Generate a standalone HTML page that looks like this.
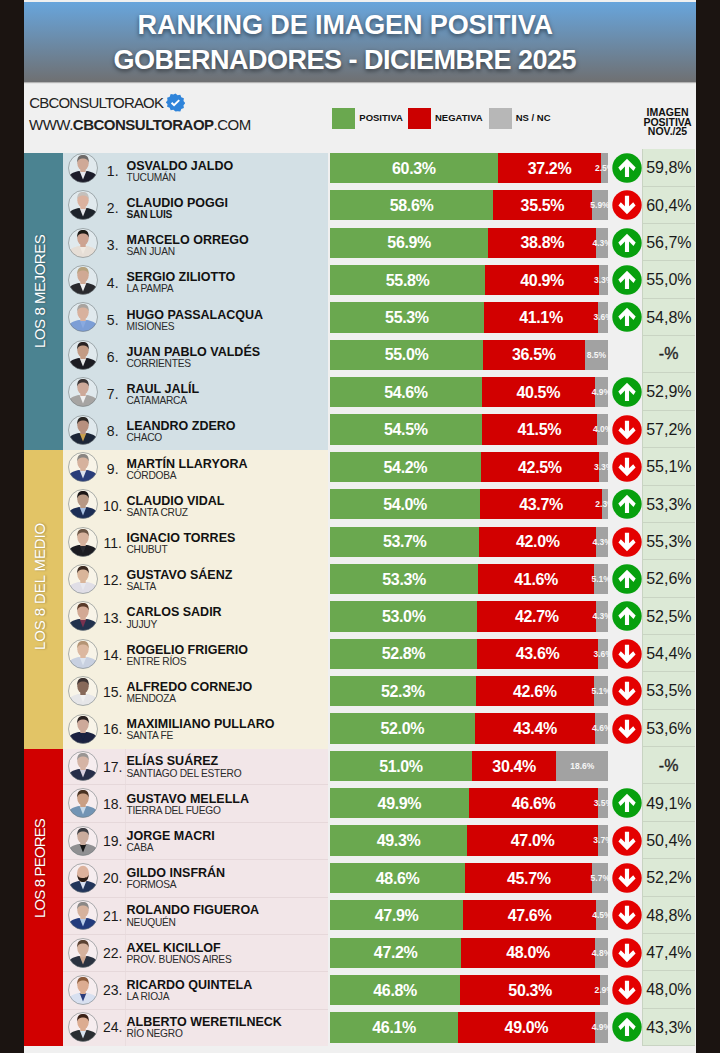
<!DOCTYPE html>
<html><head><meta charset="utf-8"><style>
*{margin:0;padding:0;box-sizing:border-box}
html,body{width:720px;height:1053px;overflow:hidden;background:#1b1411}
body{position:relative;font-family:"Liberation Sans",sans-serif}
#pg{position:absolute;left:24px;top:0;width:672px;height:1053px;background:#f0f0f0}
#hdr{position:absolute;left:24px;top:2px;width:672px;height:80px;background:linear-gradient(#68a5dc,#6f7072);box-shadow:0 1px 1px rgba(0,0,0,.25)}
.t{position:absolute;color:#fff;font-weight:bold;font-size:27px;line-height:27px;white-space:nowrap;text-shadow:0 2px 4px rgba(0,0,0,.5)}
.sec{position:absolute;left:24px;width:39.3px}
.rb{position:absolute;left:63px;width:265px}
.vl{position:absolute;color:#fff;font-size:15px;line-height:15px;white-space:nowrap;transform-origin:0 0;transform:rotate(-90deg);text-shadow:0 1px 2px rgba(0,0,0,.35)}
.bar{position:absolute;height:30.3px;overflow:visible;display:flex;align-items:center;justify-content:center}
.bar span{color:#fff;font-weight:bold;font-size:16px;line-height:16px;letter-spacing:-0.35px;white-space:nowrap;position:relative;top:0.7px}
.g{background:#6aa84f}
.r{background:#d20000}
.n{background:#a2a2a2}
.nsl{position:absolute;height:30.3px;line-height:30.3px;text-align:center;font-weight:bold;font-size:8.5px;color:#f6f6f6;white-space:nowrap}
.dash{font-weight:normal;color:#333;font-size:15.5px;-webkit-text-stroke:0.4px #333;text-indent:-0.5px;margin-top:-0.6px}
.arr{position:absolute}
#pcol{position:absolute;left:641.8px;top:149.2px;width:53.7px;height:897px;background:#dce9d6;border-left:1px solid #c8d3c2}
.prev{position:absolute;left:642.8px;width:52.2px;height:37.375px;line-height:37.375px;text-align:center;font-size:16px;color:#1a1a1a;border-bottom:1px solid #c9d4c3}
.num{position:absolute;left:92.7px;width:40px;text-align:center;font-size:14px;line-height:14px;color:#1a1a1a}
.nm{position:absolute;left:126.5px;font-weight:bold;font-size:12.5px;line-height:13px;color:#111;white-space:nowrap}
.pv{position:absolute;left:126.5px;font-size:10.2px;line-height:10px;letter-spacing:-0.25px;color:#2a2a2a;white-space:nowrap}
.av{position:absolute}
.lg{position:absolute;font-weight:bold;font-size:9.5px;line-height:10px;color:#111;white-space:nowrap}
.sq{position:absolute;top:108.3px;height:21px;width:23px}
</style></head><body>
<div id="pg"></div>
<div id="hdr"></div>
<div class="t" style="left:137.6px;top:12px;letter-spacing:-0.1px">RANKING DE IMAGEN POSITIVA</div>
<div class="t" style="left:113.5px;top:47.3px;letter-spacing:-0.5px">GOBERNADORES - DICIEMBRE 2025</div>
<div style="position:absolute;left:29.3px;top:95.3px;font-size:15px;line-height:15px;color:#222;letter-spacing:-0.82px">CBCONSULTORAOK</div>
<svg style="position:absolute;left:166.3px;top:93.2px" width="19" height="19" viewBox="0 0 24 24"><path fill="#2f84da" d="M12 0.5l2.7 2.2 3.4-.5 1.2 3.3 3.3 1.2-.5 3.4 2.2 2.7-2.2 2.7.5 3.4-3.3 1.2-1.2 3.3-3.4-.5L12 23.5l-2.7-2.2-3.4.5-1.2-3.3-3.3-1.2.5-3.4L-.3 12l2.2-2.7-.5-3.4 3.3-1.2 1.2-3.3 3.4.5z"/><path d="M7 12.3l3.2 3.2 6.5-6.6" fill="none" stroke="#fff" stroke-width="2.4"/></svg>
<div style="position:absolute;left:29px;top:117px;font-size:15px;line-height:15px;color:#222;letter-spacing:-0.5px">WWW.<b>CBCONSULTORAOP</b>.COM</div>
<div class="sq" style="left:332.3px;background:#6aa84f"></div>
<div class="lg" style="left:359.3px;top:113px">POSITIVA</div>
<div class="sq" style="left:408.3px;background:#cc0000"></div>
<div class="lg" style="left:435px;top:113px">NEGATIVA</div>
<div class="sq" style="left:489px;background:#b7b7b7"></div>
<div class="lg" style="left:515.7px;top:113px">NS / NC</div>
<div class="lg" style="left:641px;width:53px;text-align:center;top:107.7px;font-size:10.5px;line-height:9.85px">IMAGEN<br>POSITIVA<br>NOV./25</div>
<div class="sec" style="top:152.5px;height:298.6px;background:#4b8391"></div>
<div class="sec" style="top:450.1px;height:299.4px;background:#e2c466"></div>
<div class="sec" style="top:748.5px;height:297.3px;background:#d10000"></div>
<div class="rb" style="top:152.5px;height:298.6px;background:#d3e0e5"></div>
<div class="rb" style="top:450.1px;height:299.4px;background:#f5f0df"></div>
<div class="rb" style="top:748.5px;height:297.3px;background:#f2e6e8"></div>
<div class="vl" style="left:31.5px;top:348px;letter-spacing:-0.45px">LOS 8 MEJORES</div>
<div class="vl" style="left:31.5px;top:649.7px;letter-spacing:-0.1px">LOS 8 DEL MEDIO</div>
<div class="vl" style="left:31.5px;top:917.5px;letter-spacing:-0.85px">LOS 8 PEORES</div>
<div id="pcol"></div>
<div style="position:absolute;left:125px;top:748.5px;width:1px;height:297.3px;background:#eadddf"></div>
<svg width="0" height="0" style="position:absolute"><filter id="bl" x="-10%" y="-10%" width="120%" height="120%"><feGaussianBlur stdDeviation="0.45"/></filter></svg>
<div class="bar g" style="top:152.8px;left:330px;width:167.75px"><span>60.3%</span></div>
<div class="bar r" style="top:152.8px;left:497.75px;width:103.49px"><span>37.2%</span></div>
<div class="bar n" style="top:152.8px;left:601.25px;width:6.95px"></div>
<div class="nsl" style="top:152.8px;left:584.72px;width:40px;clip-path:inset(0 14.72px 0 0)">2.5%</div>
<svg class="arr" style="top:152.95px;left:611.5px" width="30" height="30" viewBox="-15 -15 30 30"><circle r="14.7" fill="#07a00e"/><polygon points="0,-9.2 8.7,-0.5 6.5,2.9 2.05,-1.55 2.05,9.1 -2.05,9.1 -2.05,-1.55 -6.5,2.9 -8.7,-0.5" fill="#fff"/></svg>
<div class="prev" style="top:149.2px">59,8%</div>
<div class="num" style="top:163.8px">1.</div>
<div class="nm" style="top:159.6px">OSVALDO JALDO</div>
<div class="pv" style="top:172.7px">TUCUMÁN</div>
<svg class="av" style="top:152.95px;left:68px" width="30" height="30" viewBox="0 0 30 30"><defs><clipPath id="c0"><circle cx="15" cy="15" r="14.6"/></clipPath></defs><circle cx="15" cy="15" r="14.5" fill="#fff" fill-opacity="0.3"/><g clip-path="url(#c0)"><g filter="url(#bl)"><path d="M-1 31 L0.5 24 C2.5 20 7 18.8 11 18 L19 18 C23 18.8 27.5 20 29.5 24 L31 31Z" fill="#1d1f2c"/><path d="M11.6 18 L15 26.5 L18.4 18Z" fill="#e8e8ee"/><rect x="12.3" y="13" width="5.4" height="6" fill="#cfa997"/><ellipse cx="15" cy="10.2" rx="5.7" ry="7.1" fill="#cfa997"/><path d="M9.3 9.8 C8.7 3.2 12 1.9 15 1.9 C18 1.9 21.3 3.2 20.7 9.8 C20.1 6.4 18 5.4 15 5.4 C12 5.4 9.9 6.4 9.3 9.8Z" fill="#6e6a68"/></g></g><circle cx="15" cy="15" r="14.5" fill="none" stroke="#6c7478" stroke-opacity="0.55" stroke-width="1"/></svg>
<div class="bar g" style="top:190.17px;left:330px;width:163.03px"><span>58.6%</span></div>
<div class="bar r" style="top:190.17px;left:493.03px;width:98.76px"><span>35.5%</span></div>
<div class="bar n" style="top:190.17px;left:591.79px;width:16.41px"></div>
<div class="nsl" style="top:190.17px;left:579.99px;width:40px;clip-path:inset(0 9.99px 0 0)">5.9%</div>
<svg class="arr" style="top:190.32px;left:611.5px" width="30" height="30" viewBox="-15 -15 30 30"><circle r="14.7" fill="#e40000"/><polygon points="0,9.2 8.6,0.6 6.2,-2.8 2.1,1.3 2.1,-9.3 -2.1,-9.3 -2.1,1.3 -6.2,-2.8 -8.6,0.6" fill="#fff"/></svg>
<div class="prev" style="top:186.57px">60,4%</div>
<div class="num" style="top:201.04px">2.</div>
<div class="nm" style="top:196.84px">CLAUDIO POGGI</div>
<div class="pv" style="top:209.94px;font-weight:bold;color:#1a1a1a">SAN LUIS</div>
<svg class="av" style="top:190.32px;left:68px" width="30" height="30" viewBox="0 0 30 30"><defs><clipPath id="c1"><circle cx="15" cy="15" r="14.6"/></clipPath></defs><circle cx="15" cy="15" r="14.5" fill="#fff" fill-opacity="0.3"/><g clip-path="url(#c1)"><g filter="url(#bl)"><path d="M-1 31 L0.5 24 C2.5 20 7 18.8 11 18 L19 18 C23 18.8 27.5 20 29.5 24 L31 31Z" fill="#1f2329"/><path d="M11.6 18 L15 26.5 L18.4 18Z" fill="#e4e6ea"/><rect x="12.3" y="13" width="5.4" height="6" fill="#dbb29f"/><ellipse cx="15" cy="10.2" rx="5.7" ry="7.1" fill="#dbb29f"/><path d="M9.3 9.8 C8.7 3.2 12 1.9 15 1.9 C18 1.9 21.3 3.2 20.7 9.8 C20.1 6.4 18 5.4 15 5.4 C12 5.4 9.9 6.4 9.3 9.8Z" fill="#c4c0bc"/></g></g><circle cx="15" cy="15" r="14.5" fill="none" stroke="#6c7478" stroke-opacity="0.55" stroke-width="1"/></svg>
<div class="bar g" style="top:227.54px;left:330px;width:158.3px"><span>56.9%</span></div>
<div class="bar r" style="top:227.54px;left:488.3px;width:107.94px"><span>38.8%</span></div>
<div class="bar n" style="top:227.54px;left:596.24px;width:11.96px"></div>
<div class="nsl" style="top:227.54px;left:582.22px;width:40px;clip-path:inset(0 12.22px 0 0)">4.3%</div>
<svg class="arr" style="top:227.69px;left:611.5px" width="30" height="30" viewBox="-15 -15 30 30"><circle r="14.7" fill="#07a00e"/><polygon points="0,-9.2 8.7,-0.5 6.5,2.9 2.05,-1.55 2.05,9.1 -2.05,9.1 -2.05,-1.55 -6.5,2.9 -8.7,-0.5" fill="#fff"/></svg>
<div class="prev" style="top:223.95px">56,7%</div>
<div class="num" style="top:238.28px">3.</div>
<div class="nm" style="top:234.08px">MARCELO ORREGO</div>
<div class="pv" style="top:247.18px">SAN JUAN</div>
<svg class="av" style="top:227.69px;left:68px" width="30" height="30" viewBox="0 0 30 30"><defs><clipPath id="c2"><circle cx="15" cy="15" r="14.6"/></clipPath></defs><circle cx="15" cy="15" r="14.5" fill="#fff" fill-opacity="0.3"/><g clip-path="url(#c2)"><g filter="url(#bl)"><path d="M-1 31 L0.5 24 C2.5 20 7 18.8 11 18 L19 18 C23 18.8 27.5 20 29.5 24 L31 31Z" fill="#e6ded6"/><path d="M11.6 18 L15 26.5 L18.4 18Z" fill="#efe8e0"/><rect x="12.3" y="13" width="5.4" height="6" fill="#cda391"/><ellipse cx="15" cy="10.2" rx="5.7" ry="7.1" fill="#cda391"/><path d="M9.3 9.8 C8.7 3.2 12 1.9 15 1.9 C18 1.9 21.3 3.2 20.7 9.8 C20.1 6.4 18 5.4 15 5.4 C12 5.4 9.9 6.4 9.3 9.8Z" fill="#1e1a18"/></g></g><circle cx="15" cy="15" r="14.5" fill="none" stroke="#6c7478" stroke-opacity="0.55" stroke-width="1"/></svg>
<div class="bar g" style="top:264.91px;left:330px;width:155.24px"><span>55.8%</span></div>
<div class="bar r" style="top:264.91px;left:485.24px;width:113.78px"><span>40.9%</span></div>
<div class="bar n" style="top:264.91px;left:599.02px;width:9.18px"></div>
<div class="nsl" style="top:264.91px;left:583.61px;width:40px;clip-path:inset(0 13.61px 0 0)">3.3%</div>
<svg class="arr" style="top:265.06px;left:611.5px" width="30" height="30" viewBox="-15 -15 30 30"><circle r="14.7" fill="#07a00e"/><polygon points="0,-9.2 8.7,-0.5 6.5,2.9 2.05,-1.55 2.05,9.1 -2.05,9.1 -2.05,-1.55 -6.5,2.9 -8.7,-0.5" fill="#fff"/></svg>
<div class="prev" style="top:261.32px">55,0%</div>
<div class="num" style="top:275.52px">4.</div>
<div class="nm" style="top:271.32px">SERGIO ZILIOTTO</div>
<div class="pv" style="top:284.42px">LA PAMPA</div>
<svg class="av" style="top:265.06px;left:68px" width="30" height="30" viewBox="0 0 30 30"><defs><clipPath id="c3"><circle cx="15" cy="15" r="14.6"/></clipPath></defs><circle cx="15" cy="15" r="14.5" fill="#fff" fill-opacity="0.3"/><g clip-path="url(#c3)"><g filter="url(#bl)"><path d="M-1 31 L0.5 24 C2.5 20 7 18.8 11 18 L19 18 C23 18.8 27.5 20 29.5 24 L31 31Z" fill="#2a2a2e"/><path d="M11.6 18 L15 26.5 L18.4 18Z" fill="#f0f0f0"/><rect x="12.3" y="13" width="5.4" height="6" fill="#d0a994"/><ellipse cx="15" cy="10.2" rx="5.7" ry="7.1" fill="#d0a994"/><path d="M9.3 9.8 C8.7 3.2 12 1.9 15 1.9 C18 1.9 21.3 3.2 20.7 9.8 C20.1 6.4 18 5.4 15 5.4 C12 5.4 9.9 6.4 9.3 9.8Z" fill="#b6a27e"/></g></g><circle cx="15" cy="15" r="14.5" fill="none" stroke="#6c7478" stroke-opacity="0.55" stroke-width="1"/></svg>
<div class="bar g" style="top:302.28px;left:330px;width:153.84px"><span>55.3%</span></div>
<div class="bar r" style="top:302.28px;left:483.84px;width:114.34px"><span>41.1%</span></div>
<div class="bar n" style="top:302.28px;left:598.18px;width:10.02px"></div>
<div class="nsl" style="top:302.28px;left:583.19px;width:40px;clip-path:inset(0 13.19px 0 0)">3.6%</div>
<svg class="arr" style="top:302.43px;left:611.5px" width="30" height="30" viewBox="-15 -15 30 30"><circle r="14.7" fill="#07a00e"/><polygon points="0,-9.2 8.7,-0.5 6.5,2.9 2.05,-1.55 2.05,9.1 -2.05,9.1 -2.05,-1.55 -6.5,2.9 -8.7,-0.5" fill="#fff"/></svg>
<div class="prev" style="top:298.7px">54,8%</div>
<div class="num" style="top:312.76px">5.</div>
<div class="nm" style="top:308.56px">HUGO PASSALACQUA</div>
<div class="pv" style="top:321.66px">MISIONES</div>
<svg class="av" style="top:302.43px;left:68px" width="30" height="30" viewBox="0 0 30 30"><defs><clipPath id="c4"><circle cx="15" cy="15" r="14.6"/></clipPath></defs><circle cx="15" cy="15" r="14.5" fill="#fff" fill-opacity="0.3"/><g clip-path="url(#c4)"><g filter="url(#bl)"><path d="M-1 31 L0.5 24 C2.5 20 7 18.8 11 18 L19 18 C23 18.8 27.5 20 29.5 24 L31 31Z" fill="#7c9ed6"/><path d="M11.6 18 L15 26.5 L18.4 18Z" fill="#8aaae0"/><rect x="12.3" y="13" width="5.4" height="6" fill="#d8b19d"/><ellipse cx="15" cy="10.2" rx="5.7" ry="7.1" fill="#d8b19d"/><path d="M9.3 9.8 C8.7 3.2 12 1.9 15 1.9 C18 1.9 21.3 3.2 20.7 9.8 C20.1 6.4 18 5.4 15 5.4 C12 5.4 9.9 6.4 9.3 9.8Z" fill="#a8a4a0"/></g></g><circle cx="15" cy="15" r="14.5" fill="none" stroke="#6c7478" stroke-opacity="0.55" stroke-width="1"/></svg>
<div class="bar g" style="top:339.65px;left:330px;width:153.01px"><span>55.0%</span></div>
<div class="bar r" style="top:339.65px;left:483.01px;width:101.54px"><span>36.5%</span></div>
<div class="bar n" style="top:339.65px;left:584.55px;width:23.65px"></div>
<div class="nsl" style="top:339.65px;left:576.38px;width:40px;clip-path:inset(0 6.38px 0 0)">8.5%</div>
<div class="prev dash" style="top:336.07px">-%</div>
<div class="num" style="top:350px">6.</div>
<div class="nm" style="top:345.8px">JUAN PABLO VALDÉS</div>
<div class="pv" style="top:358.9px">CORRIENTES</div>
<svg class="av" style="top:339.8px;left:68px" width="30" height="30" viewBox="0 0 30 30"><defs><clipPath id="c5"><circle cx="15" cy="15" r="14.6"/></clipPath></defs><circle cx="15" cy="15" r="14.5" fill="#fff" fill-opacity="0.3"/><g clip-path="url(#c5)"><g filter="url(#bl)"><path d="M-1 31 L0.5 24 C2.5 20 7 18.8 11 18 L19 18 C23 18.8 27.5 20 29.5 24 L31 31Z" fill="#1a1a22"/><path d="M11.6 18 L15 26.5 L18.4 18Z" fill="#e8e8e8"/><rect x="12.3" y="13" width="5.4" height="6" fill="#c39b84"/><ellipse cx="15" cy="10.2" rx="5.7" ry="7.1" fill="#c39b84"/><path d="M9.3 9.8 C8.7 3.2 12 1.9 15 1.9 C18 1.9 21.3 3.2 20.7 9.8 C20.1 6.4 18 5.4 15 5.4 C12 5.4 9.9 6.4 9.3 9.8Z" fill="#2a2422"/></g></g><circle cx="15" cy="15" r="14.5" fill="none" stroke="#6c7478" stroke-opacity="0.55" stroke-width="1"/></svg>
<div class="bar g" style="top:377.02px;left:330px;width:151.9px"><span>54.6%</span></div>
<div class="bar r" style="top:377.02px;left:481.9px;width:112.67px"><span>40.5%</span></div>
<div class="bar n" style="top:377.02px;left:594.57px;width:13.63px"></div>
<div class="nsl" style="top:377.02px;left:581.38px;width:40px;clip-path:inset(0 11.38px 0 0)">4.9%</div>
<svg class="arr" style="top:377.17px;left:611.5px" width="30" height="30" viewBox="-15 -15 30 30"><circle r="14.7" fill="#07a00e"/><polygon points="0,-9.2 8.7,-0.5 6.5,2.9 2.05,-1.55 2.05,9.1 -2.05,9.1 -2.05,-1.55 -6.5,2.9 -8.7,-0.5" fill="#fff"/></svg>
<div class="prev" style="top:373.45px">52,9%</div>
<div class="num" style="top:387.24px">7.</div>
<div class="nm" style="top:383.04px">RAUL JALÍL</div>
<div class="pv" style="top:396.14px">CATAMARCA</div>
<svg class="av" style="top:377.17px;left:68px" width="30" height="30" viewBox="0 0 30 30"><defs><clipPath id="c6"><circle cx="15" cy="15" r="14.6"/></clipPath></defs><circle cx="15" cy="15" r="14.5" fill="#fff" fill-opacity="0.3"/><g clip-path="url(#c6)"><g filter="url(#bl)"><path d="M-1 31 L0.5 24 C2.5 20 7 18.8 11 18 L19 18 C23 18.8 27.5 20 29.5 24 L31 31Z" fill="#a6a4a2"/><path d="M11.6 18 L15 26.5 L18.4 18Z" fill="#f0f0f0"/><rect x="12.3" y="13" width="5.4" height="6" fill="#cda999"/><ellipse cx="15" cy="10.2" rx="5.7" ry="7.1" fill="#cda999"/><path d="M9.3 9.8 C8.7 3.2 12 1.9 15 1.9 C18 1.9 21.3 3.2 20.7 9.8 C20.1 6.4 18 5.4 15 5.4 C12 5.4 9.9 6.4 9.3 9.8Z" fill="#3a3636"/></g></g><circle cx="15" cy="15" r="14.5" fill="none" stroke="#6c7478" stroke-opacity="0.55" stroke-width="1"/></svg>
<div class="bar g" style="top:414.39px;left:330px;width:151.62px"><span>54.5%</span></div>
<div class="bar r" style="top:414.39px;left:481.62px;width:115.45px"><span>41.5%</span></div>
<div class="bar n" style="top:414.39px;left:597.07px;width:11.13px"></div>
<div class="nsl" style="top:414.39px;left:582.64px;width:40px;clip-path:inset(0 12.64px 0 0)">4.0%</div>
<svg class="arr" style="top:414.54px;left:611.5px" width="30" height="30" viewBox="-15 -15 30 30"><circle r="14.7" fill="#e40000"/><polygon points="0,9.2 8.6,0.6 6.2,-2.8 2.1,1.3 2.1,-9.3 -2.1,-9.3 -2.1,1.3 -6.2,-2.8 -8.6,0.6" fill="#fff"/></svg>
<div class="prev" style="top:410.82px">57,2%</div>
<div class="num" style="top:424.48px">8.</div>
<div class="nm" style="top:420.28px">LEANDRO ZDERO</div>
<div class="pv" style="top:433.38px">CHACO</div>
<svg class="av" style="top:414.54px;left:68px" width="30" height="30" viewBox="0 0 30 30"><defs><clipPath id="c7"><circle cx="15" cy="15" r="14.6"/></clipPath></defs><circle cx="15" cy="15" r="14.5" fill="#fff" fill-opacity="0.3"/><g clip-path="url(#c7)"><g filter="url(#bl)"><path d="M-1 31 L0.5 24 C2.5 20 7 18.8 11 18 L19 18 C23 18.8 27.5 20 29.5 24 L31 31Z" fill="#1e2638"/><path d="M11.6 18 L15 26.5 L18.4 18Z" fill="#c8a050"/><rect x="12.3" y="13" width="5.4" height="6" fill="#b7907e"/><ellipse cx="15" cy="10.2" rx="5.7" ry="7.1" fill="#b7907e"/><path d="M9.3 9.8 C8.7 3.2 12 1.9 15 1.9 C18 1.9 21.3 3.2 20.7 9.8 C20.1 6.4 18 5.4 15 5.4 C12 5.4 9.9 6.4 9.3 9.8Z" fill="#2c2624"/></g></g><circle cx="15" cy="15" r="14.5" fill="none" stroke="#6c7478" stroke-opacity="0.55" stroke-width="1"/></svg>
<div class="bar g" style="top:451.76px;left:330px;width:150.78px"><span>54.2%</span></div>
<div class="bar r" style="top:451.76px;left:480.78px;width:118.23px"><span>42.5%</span></div>
<div class="bar n" style="top:451.76px;left:599.02px;width:9.18px"></div>
<div class="nsl" style="top:451.76px;left:583.61px;width:40px;clip-path:inset(0 13.61px 0 0)">3.3%</div>
<svg class="arr" style="top:451.91px;left:611.5px" width="30" height="30" viewBox="-15 -15 30 30"><circle r="14.7" fill="#e40000"/><polygon points="0,9.2 8.6,0.6 6.2,-2.8 2.1,1.3 2.1,-9.3 -2.1,-9.3 -2.1,1.3 -6.2,-2.8 -8.6,0.6" fill="#fff"/></svg>
<div class="prev" style="top:448.2px">55,1%</div>
<div class="num" style="top:461.72px">9.</div>
<div class="nm" style="top:457.52px">MARTÍN LLARYORA</div>
<div class="pv" style="top:470.62px">CÓRDOBA</div>
<svg class="av" style="top:451.91px;left:68px" width="30" height="30" viewBox="0 0 30 30"><defs><clipPath id="c8"><circle cx="15" cy="15" r="14.6"/></clipPath></defs><circle cx="15" cy="15" r="14.5" fill="#fff" fill-opacity="0.3"/><g clip-path="url(#c8)"><g filter="url(#bl)"><path d="M-1 31 L0.5 24 C2.5 20 7 18.8 11 18 L19 18 C23 18.8 27.5 20 29.5 24 L31 31Z" fill="#2c3c7a"/><path d="M11.6 18 L15 26.5 L18.4 18Z" fill="#dde2ee"/><rect x="12.3" y="13" width="5.4" height="6" fill="#d6b29d"/><ellipse cx="15" cy="10.2" rx="5.7" ry="7.1" fill="#d6b29d"/><path d="M9.3 9.8 C8.7 3.2 12 1.9 15 1.9 C18 1.9 21.3 3.2 20.7 9.8 C20.1 6.4 18 5.4 15 5.4 C12 5.4 9.9 6.4 9.3 9.8Z" fill="#8a8682"/></g></g><circle cx="15" cy="15" r="14.5" fill="none" stroke="#6c7478" stroke-opacity="0.55" stroke-width="1"/></svg>
<div class="bar g" style="top:489.13px;left:330px;width:150.23px"><span>54.0%</span></div>
<div class="bar r" style="top:489.13px;left:480.23px;width:121.57px"><span>43.7%</span></div>
<div class="bar n" style="top:489.13px;left:601.8px;width:6.4px"></div>
<div class="nsl" style="top:489.13px;left:585px;width:40px;clip-path:inset(0 15px 0 0)">2.3%</div>
<svg class="arr" style="top:489.28px;left:611.5px" width="30" height="30" viewBox="-15 -15 30 30"><circle r="14.7" fill="#07a00e"/><polygon points="0,-9.2 8.7,-0.5 6.5,2.9 2.05,-1.55 2.05,9.1 -2.05,9.1 -2.05,-1.55 -6.5,2.9 -8.7,-0.5" fill="#fff"/></svg>
<div class="prev" style="top:485.57px">53,3%</div>
<div class="num" style="top:498.96px">10.</div>
<div class="nm" style="top:494.76px">CLAUDIO VIDAL</div>
<div class="pv" style="top:507.86px">SANTA CRUZ</div>
<svg class="av" style="top:489.28px;left:68px" width="30" height="30" viewBox="0 0 30 30"><defs><clipPath id="c9"><circle cx="15" cy="15" r="14.6"/></clipPath></defs><circle cx="15" cy="15" r="14.5" fill="#fff" fill-opacity="0.3"/><g clip-path="url(#c9)"><g filter="url(#bl)"><path d="M-1 31 L0.5 24 C2.5 20 7 18.8 11 18 L19 18 C23 18.8 27.5 20 29.5 24 L31 31Z" fill="#1f2f55"/><path d="M11.6 18 L15 26.5 L18.4 18Z" fill="#a8c0e0"/><rect x="12.3" y="13" width="5.4" height="6" fill="#b79884"/><ellipse cx="15" cy="10.2" rx="5.7" ry="7.1" fill="#b79884"/><path d="M9.3 9.8 C8.7 3.2 12 1.9 15 1.9 C18 1.9 21.3 3.2 20.7 9.8 C20.1 6.4 18 5.4 15 5.4 C12 5.4 9.9 6.4 9.3 9.8Z" fill="#1a1616"/></g></g><circle cx="15" cy="15" r="14.5" fill="none" stroke="#6c7478" stroke-opacity="0.55" stroke-width="1"/></svg>
<div class="bar g" style="top:526.5px;left:330px;width:149.39px"><span>53.7%</span></div>
<div class="bar r" style="top:526.5px;left:479.39px;width:116.84px"><span>42.0%</span></div>
<div class="bar n" style="top:526.5px;left:596.24px;width:11.96px"></div>
<div class="nsl" style="top:526.5px;left:582.22px;width:40px;clip-path:inset(0 12.22px 0 0)">4.3%</div>
<svg class="arr" style="top:526.65px;left:611.5px" width="30" height="30" viewBox="-15 -15 30 30"><circle r="14.7" fill="#e40000"/><polygon points="0,9.2 8.6,0.6 6.2,-2.8 2.1,1.3 2.1,-9.3 -2.1,-9.3 -2.1,1.3 -6.2,-2.8 -8.6,0.6" fill="#fff"/></svg>
<div class="prev" style="top:522.95px">55,3%</div>
<div class="num" style="top:536.2px">11.</div>
<div class="nm" style="top:532px">IGNACIO TORRES</div>
<div class="pv" style="top:545.1px">CHUBUT</div>
<svg class="av" style="top:526.65px;left:68px" width="30" height="30" viewBox="0 0 30 30"><defs><clipPath id="c10"><circle cx="15" cy="15" r="14.6"/></clipPath></defs><circle cx="15" cy="15" r="14.5" fill="#fff" fill-opacity="0.3"/><g clip-path="url(#c10)"><g filter="url(#bl)"><path d="M-1 31 L0.5 24 C2.5 20 7 18.8 11 18 L19 18 C23 18.8 27.5 20 29.5 24 L31 31Z" fill="#1a1c22"/><path d="M11.6 18 L15 26.5 L18.4 18Z" fill="#2a2c30"/><rect x="12.3" y="13" width="5.4" height="6" fill="#d6b29d"/><ellipse cx="15" cy="10.2" rx="5.7" ry="7.1" fill="#d6b29d"/><path d="M9.3 9.8 C8.7 3.2 12 1.9 15 1.9 C18 1.9 21.3 3.2 20.7 9.8 C20.1 6.4 18 5.4 15 5.4 C12 5.4 9.9 6.4 9.3 9.8Z" fill="#6a5444"/></g></g><circle cx="15" cy="15" r="14.5" fill="none" stroke="#6c7478" stroke-opacity="0.55" stroke-width="1"/></svg>
<div class="bar g" style="top:563.87px;left:330px;width:148.28px"><span>53.3%</span></div>
<div class="bar r" style="top:563.87px;left:478.28px;width:115.73px"><span>41.6%</span></div>
<div class="bar n" style="top:563.87px;left:594.01px;width:14.19px"></div>
<div class="nsl" style="top:563.87px;left:581.11px;width:40px;clip-path:inset(0 11.11px 0 0)">5.1%</div>
<svg class="arr" style="top:564.02px;left:611.5px" width="30" height="30" viewBox="-15 -15 30 30"><circle r="14.7" fill="#07a00e"/><polygon points="0,-9.2 8.7,-0.5 6.5,2.9 2.05,-1.55 2.05,9.1 -2.05,9.1 -2.05,-1.55 -6.5,2.9 -8.7,-0.5" fill="#fff"/></svg>
<div class="prev" style="top:560.33px">52,6%</div>
<div class="num" style="top:573.44px">12.</div>
<div class="nm" style="top:569.24px">GUSTAVO SÁENZ</div>
<div class="pv" style="top:582.34px">SALTA</div>
<svg class="av" style="top:564.02px;left:68px" width="30" height="30" viewBox="0 0 30 30"><defs><clipPath id="c11"><circle cx="15" cy="15" r="14.6"/></clipPath></defs><circle cx="15" cy="15" r="14.5" fill="#fff" fill-opacity="0.3"/><g clip-path="url(#c11)"><g filter="url(#bl)"><path d="M-1 31 L0.5 24 C2.5 20 7 18.8 11 18 L19 18 C23 18.8 27.5 20 29.5 24 L31 31Z" fill="#e0dee6"/><path d="M11.6 18 L15 26.5 L18.4 18Z" fill="#e8e8ee"/><rect x="12.3" y="13" width="5.4" height="6" fill="#d9b59a"/><ellipse cx="15" cy="10.2" rx="5.7" ry="7.1" fill="#d9b59a"/><path d="M9.3 9.8 C8.7 3.2 12 1.9 15 1.9 C18 1.9 21.3 3.2 20.7 9.8 C20.1 6.4 18 5.4 15 5.4 C12 5.4 9.9 6.4 9.3 9.8Z" fill="#3a2a20"/></g></g><circle cx="15" cy="15" r="14.5" fill="none" stroke="#6c7478" stroke-opacity="0.55" stroke-width="1"/></svg>
<div class="bar g" style="top:601.24px;left:330px;width:147.45px"><span>53.0%</span></div>
<div class="bar r" style="top:601.24px;left:477.45px;width:118.79px"><span>42.7%</span></div>
<div class="bar n" style="top:601.24px;left:596.24px;width:11.96px"></div>
<div class="nsl" style="top:601.24px;left:582.22px;width:40px;clip-path:inset(0 12.22px 0 0)">4.3%</div>
<svg class="arr" style="top:601.39px;left:611.5px" width="30" height="30" viewBox="-15 -15 30 30"><circle r="14.7" fill="#07a00e"/><polygon points="0,-9.2 8.7,-0.5 6.5,2.9 2.05,-1.55 2.05,9.1 -2.05,9.1 -2.05,-1.55 -6.5,2.9 -8.7,-0.5" fill="#fff"/></svg>
<div class="prev" style="top:597.7px">52,5%</div>
<div class="num" style="top:610.68px">13.</div>
<div class="nm" style="top:606.48px">CARLOS SADIR</div>
<div class="pv" style="top:619.58px">JUJUY</div>
<svg class="av" style="top:601.39px;left:68px" width="30" height="30" viewBox="0 0 30 30"><defs><clipPath id="c12"><circle cx="15" cy="15" r="14.6"/></clipPath></defs><circle cx="15" cy="15" r="14.5" fill="#fff" fill-opacity="0.3"/><g clip-path="url(#c12)"><g filter="url(#bl)"><path d="M-1 31 L0.5 24 C2.5 20 7 18.8 11 18 L19 18 C23 18.8 27.5 20 29.5 24 L31 31Z" fill="#22324e"/><path d="M11.6 18 L15 26.5 L18.4 18Z" fill="#7a3050"/><rect x="12.3" y="13" width="5.4" height="6" fill="#d3a994"/><ellipse cx="15" cy="10.2" rx="5.7" ry="7.1" fill="#d3a994"/><path d="M9.3 9.8 C8.7 3.2 12 1.9 15 1.9 C18 1.9 21.3 3.2 20.7 9.8 C20.1 6.4 18 5.4 15 5.4 C12 5.4 9.9 6.4 9.3 9.8Z" fill="#5a3a2a"/></g></g><circle cx="15" cy="15" r="14.5" fill="none" stroke="#6c7478" stroke-opacity="0.55" stroke-width="1"/></svg>
<div class="bar g" style="top:638.61px;left:330px;width:146.89px"><span>52.8%</span></div>
<div class="bar r" style="top:638.61px;left:476.89px;width:121.3px"><span>43.6%</span></div>
<div class="bar n" style="top:638.61px;left:598.18px;width:10.02px"></div>
<div class="nsl" style="top:638.61px;left:583.19px;width:40px;clip-path:inset(0 13.19px 0 0)">3.6%</div>
<svg class="arr" style="top:638.76px;left:611.5px" width="30" height="30" viewBox="-15 -15 30 30"><circle r="14.7" fill="#e40000"/><polygon points="0,9.2 8.6,0.6 6.2,-2.8 2.1,1.3 2.1,-9.3 -2.1,-9.3 -2.1,1.3 -6.2,-2.8 -8.6,0.6" fill="#fff"/></svg>
<div class="prev" style="top:635.08px">54,4%</div>
<div class="num" style="top:647.92px">14.</div>
<div class="nm" style="top:643.72px">ROGELIO FRIGERIO</div>
<div class="pv" style="top:656.82px">ENTRE RÍOS</div>
<svg class="av" style="top:638.76px;left:68px" width="30" height="30" viewBox="0 0 30 30"><defs><clipPath id="c13"><circle cx="15" cy="15" r="14.6"/></clipPath></defs><circle cx="15" cy="15" r="14.5" fill="#fff" fill-opacity="0.3"/><g clip-path="url(#c13)"><g filter="url(#bl)"><path d="M-1 31 L0.5 24 C2.5 20 7 18.8 11 18 L19 18 C23 18.8 27.5 20 29.5 24 L31 31Z" fill="#c8d0e0"/><path d="M11.6 18 L15 26.5 L18.4 18Z" fill="#dde4ee"/><rect x="12.3" y="13" width="5.4" height="6" fill="#dcb8a0"/><ellipse cx="15" cy="10.2" rx="5.7" ry="7.1" fill="#dcb8a0"/><path d="M9.3 9.8 C8.7 3.2 12 1.9 15 1.9 C18 1.9 21.3 3.2 20.7 9.8 C20.1 6.4 18 5.4 15 5.4 C12 5.4 9.9 6.4 9.3 9.8Z" fill="#b49474"/></g></g><circle cx="15" cy="15" r="14.5" fill="none" stroke="#6c7478" stroke-opacity="0.55" stroke-width="1"/></svg>
<div class="bar g" style="top:675.98px;left:330px;width:145.5px"><span>52.3%</span></div>
<div class="bar r" style="top:675.98px;left:475.5px;width:118.51px"><span>42.6%</span></div>
<div class="bar n" style="top:675.98px;left:594.01px;width:14.19px"></div>
<div class="nsl" style="top:675.98px;left:581.11px;width:40px;clip-path:inset(0 11.11px 0 0)">5.1%</div>
<svg class="arr" style="top:676.13px;left:611.5px" width="30" height="30" viewBox="-15 -15 30 30"><circle r="14.7" fill="#e40000"/><polygon points="0,9.2 8.6,0.6 6.2,-2.8 2.1,1.3 2.1,-9.3 -2.1,-9.3 -2.1,1.3 -6.2,-2.8 -8.6,0.6" fill="#fff"/></svg>
<div class="prev" style="top:672.45px">53,5%</div>
<div class="num" style="top:685.16px">15.</div>
<div class="nm" style="top:680.96px">ALFREDO CORNEJO</div>
<div class="pv" style="top:694.06px">MENDOZA</div>
<svg class="av" style="top:676.13px;left:68px" width="30" height="30" viewBox="0 0 30 30"><defs><clipPath id="c14"><circle cx="15" cy="15" r="14.6"/></clipPath></defs><circle cx="15" cy="15" r="14.5" fill="#fff" fill-opacity="0.3"/><g clip-path="url(#c14)"><g filter="url(#bl)"><path d="M-1 31 L0.5 24 C2.5 20 7 18.8 11 18 L19 18 C23 18.8 27.5 20 29.5 24 L31 31Z" fill="#e6e6e8"/><path d="M11.6 18 L15 26.5 L18.4 18Z" fill="#f0f0f0"/><rect x="12.3" y="13" width="5.4" height="6" fill="#87695a"/><ellipse cx="15" cy="10.2" rx="5.7" ry="7.1" fill="#87695a"/><path d="M9.3 9.8 C8.7 3.2 12 1.9 15 1.9 C18 1.9 21.3 3.2 20.7 9.8 C20.1 6.4 18 5.4 15 5.4 C12 5.4 9.9 6.4 9.3 9.8Z" fill="#3a3030"/></g></g><circle cx="15" cy="15" r="14.5" fill="none" stroke="#6c7478" stroke-opacity="0.55" stroke-width="1"/></svg>
<div class="bar g" style="top:713.35px;left:330px;width:144.66px"><span>52.0%</span></div>
<div class="bar r" style="top:713.35px;left:474.66px;width:120.74px"><span>43.4%</span></div>
<div class="bar n" style="top:713.35px;left:595.4px;width:12.8px"></div>
<div class="nsl" style="top:713.35px;left:581.8px;width:40px;clip-path:inset(0 11.8px 0 0)">4.6%</div>
<svg class="arr" style="top:713.5px;left:611.5px" width="30" height="30" viewBox="-15 -15 30 30"><circle r="14.7" fill="#e40000"/><polygon points="0,9.2 8.6,0.6 6.2,-2.8 2.1,1.3 2.1,-9.3 -2.1,-9.3 -2.1,1.3 -6.2,-2.8 -8.6,0.6" fill="#fff"/></svg>
<div class="prev" style="top:709.83px">53,6%</div>
<div class="num" style="top:722.4px">16.</div>
<div class="nm" style="top:718.2px">MAXIMILIANO PULLARO</div>
<div class="pv" style="top:731.3px">SANTA FE</div>
<svg class="av" style="top:713.5px;left:68px" width="30" height="30" viewBox="0 0 30 30"><defs><clipPath id="c15"><circle cx="15" cy="15" r="14.6"/></clipPath></defs><circle cx="15" cy="15" r="14.5" fill="#fff" fill-opacity="0.3"/><g clip-path="url(#c15)"><g filter="url(#bl)"><path d="M-1 31 L0.5 24 C2.5 20 7 18.8 11 18 L19 18 C23 18.8 27.5 20 29.5 24 L31 31Z" fill="#1a2440"/><path d="M11.6 18 L15 26.5 L18.4 18Z" fill="#1a2440"/><rect x="12.3" y="13" width="5.4" height="6" fill="#cda99a"/><ellipse cx="15" cy="10.2" rx="5.7" ry="7.1" fill="#cda99a"/><path d="M9.3 9.8 C8.7 3.2 12 1.9 15 1.9 C18 1.9 21.3 3.2 20.7 9.8 C20.1 6.4 18 5.4 15 5.4 C12 5.4 9.9 6.4 9.3 9.8Z" fill="#2a2020"/></g></g><circle cx="15" cy="15" r="14.5" fill="none" stroke="#6c7478" stroke-opacity="0.55" stroke-width="1"/></svg>
<div class="bar g" style="top:750.72px;left:330px;width:141.88px"><span>51.0%</span></div>
<div class="bar r" style="top:750.72px;left:471.88px;width:84.57px"><span>30.4%</span></div>
<div class="bar n" style="top:750.72px;left:556.45px;width:51.75px"></div>
<div class="nsl" style="top:750.72px;left:562.33px;width:40px;clip-path:inset(0 -7.67px 0 0)">18.6%</div>
<div class="prev dash" style="top:747.2px">-%</div>
<div class="num" style="top:759.64px">17.</div>
<div class="nm" style="top:755.44px">ELÍAS SUÁREZ</div>
<div class="pv" style="top:768.54px">SANTIAGO DEL ESTERO</div>
<svg class="av" style="top:750.87px;left:68px" width="30" height="30" viewBox="0 0 30 30"><defs><clipPath id="c16"><circle cx="15" cy="15" r="14.6"/></clipPath></defs><circle cx="15" cy="15" r="14.5" fill="#fff" fill-opacity="0.3"/><g clip-path="url(#c16)"><g filter="url(#bl)"><path d="M-1 31 L0.5 24 C2.5 20 7 18.8 11 18 L19 18 C23 18.8 27.5 20 29.5 24 L31 31Z" fill="#252e48"/><path d="M11.6 18 L15 26.5 L18.4 18Z" fill="#d8d0e0"/><rect x="12.3" y="13" width="5.4" height="6" fill="#d5b4a5"/><ellipse cx="15" cy="10.2" rx="5.7" ry="7.1" fill="#d5b4a5"/><path d="M9.3 9.8 C8.7 3.2 12 1.9 15 1.9 C18 1.9 21.3 3.2 20.7 9.8 C20.1 6.4 18 5.4 15 5.4 C12 5.4 9.9 6.4 9.3 9.8Z" fill="#9a9694"/></g></g><circle cx="15" cy="15" r="14.5" fill="none" stroke="#6c7478" stroke-opacity="0.55" stroke-width="1"/></svg>
<div style="position:absolute;left:62.6px;width:265.4px;height:1px;background:#e6d8da;top:784.49px"></div>
<div class="bar g" style="top:788.09px;left:330px;width:138.82px"><span>49.9%</span></div>
<div class="bar r" style="top:788.09px;left:468.82px;width:129.64px"><span>46.6%</span></div>
<div class="bar n" style="top:788.09px;left:598.46px;width:9.74px"></div>
<div class="nsl" style="top:788.09px;left:583.33px;width:40px;clip-path:inset(0 13.33px 0 0)">3.5%</div>
<svg class="arr" style="top:788.24px;left:611.5px" width="30" height="30" viewBox="-15 -15 30 30"><circle r="14.7" fill="#07a00e"/><polygon points="0,-9.2 8.7,-0.5 6.5,2.9 2.05,-1.55 2.05,9.1 -2.05,9.1 -2.05,-1.55 -6.5,2.9 -8.7,-0.5" fill="#fff"/></svg>
<div class="prev" style="top:784.58px">49,1%</div>
<div class="num" style="top:796.88px">18.</div>
<div class="nm" style="top:792.68px">GUSTAVO MELELLA</div>
<div class="pv" style="top:805.78px">TIERRA DEL FUEGO</div>
<svg class="av" style="top:788.24px;left:68px" width="30" height="30" viewBox="0 0 30 30"><defs><clipPath id="c17"><circle cx="15" cy="15" r="14.6"/></clipPath></defs><circle cx="15" cy="15" r="14.5" fill="#fff" fill-opacity="0.3"/><g clip-path="url(#c17)"><g filter="url(#bl)"><path d="M-1 31 L0.5 24 C2.5 20 7 18.8 11 18 L19 18 C23 18.8 27.5 20 29.5 24 L31 31Z" fill="#7294b4"/><path d="M11.6 18 L15 26.5 L18.4 18Z" fill="#c8d8e8"/><rect x="12.3" y="13" width="5.4" height="6" fill="#ca9f84"/><ellipse cx="15" cy="10.2" rx="5.7" ry="7.1" fill="#ca9f84"/><path d="M9.3 9.8 C8.7 3.2 12 1.9 15 1.9 C18 1.9 21.3 3.2 20.7 9.8 C20.1 6.4 18 5.4 15 5.4 C12 5.4 9.9 6.4 9.3 9.8Z" fill="#4a3222"/></g></g><circle cx="15" cy="15" r="14.5" fill="none" stroke="#6c7478" stroke-opacity="0.55" stroke-width="1"/></svg>
<div style="position:absolute;left:62.6px;width:265.4px;height:1px;background:#e6d8da;top:821.86px"></div>
<div class="bar g" style="top:825.46px;left:330px;width:137.15px"><span>49.3%</span></div>
<div class="bar r" style="top:825.46px;left:467.15px;width:130.75px"><span>47.0%</span></div>
<div class="bar n" style="top:825.46px;left:597.91px;width:10.29px"></div>
<div class="nsl" style="top:825.46px;left:583.05px;width:40px;clip-path:inset(0 13.05px 0 0)">3.7%</div>
<svg class="arr" style="top:825.61px;left:611.5px" width="30" height="30" viewBox="-15 -15 30 30"><circle r="14.7" fill="#e40000"/><polygon points="0,9.2 8.6,0.6 6.2,-2.8 2.1,1.3 2.1,-9.3 -2.1,-9.3 -2.1,1.3 -6.2,-2.8 -8.6,0.6" fill="#fff"/></svg>
<div class="prev" style="top:821.95px">50,4%</div>
<div class="num" style="top:834.12px">19.</div>
<div class="nm" style="top:829.92px">JORGE MACRI</div>
<div class="pv" style="top:843.02px">CABA</div>
<svg class="av" style="top:825.61px;left:68px" width="30" height="30" viewBox="0 0 30 30"><defs><clipPath id="c18"><circle cx="15" cy="15" r="14.6"/></clipPath></defs><circle cx="15" cy="15" r="14.5" fill="#fff" fill-opacity="0.3"/><g clip-path="url(#c18)"><g filter="url(#bl)"><path d="M-1 31 L0.5 24 C2.5 20 7 18.8 11 18 L19 18 C23 18.8 27.5 20 29.5 24 L31 31Z" fill="#909092"/><path d="M11.6 18 L15 26.5 L18.4 18Z" fill="#151515"/><rect x="12.3" y="13" width="5.4" height="6" fill="#caac9d"/><ellipse cx="15" cy="10.2" rx="5.7" ry="7.1" fill="#caac9d"/><path d="M9.3 9.8 C8.7 3.2 12 1.9 15 1.9 C18 1.9 21.3 3.2 20.7 9.8 C20.1 6.4 18 5.4 15 5.4 C12 5.4 9.9 6.4 9.3 9.8Z" fill="#3e3e42"/></g></g><circle cx="15" cy="15" r="14.5" fill="none" stroke="#6c7478" stroke-opacity="0.55" stroke-width="1"/></svg>
<div style="position:absolute;left:62.6px;width:265.4px;height:1px;background:#e6d8da;top:859.23px"></div>
<div class="bar g" style="top:862.83px;left:330px;width:135.21px"><span>48.6%</span></div>
<div class="bar r" style="top:862.83px;left:465.21px;width:127.14px"><span>45.7%</span></div>
<div class="bar n" style="top:862.83px;left:592.34px;width:15.86px"></div>
<div class="nsl" style="top:862.83px;left:580.27px;width:40px;clip-path:inset(0 10.27px 0 0)">5.7%</div>
<svg class="arr" style="top:862.98px;left:611.5px" width="30" height="30" viewBox="-15 -15 30 30"><circle r="14.7" fill="#e40000"/><polygon points="0,9.2 8.6,0.6 6.2,-2.8 2.1,1.3 2.1,-9.3 -2.1,-9.3 -2.1,1.3 -6.2,-2.8 -8.6,0.6" fill="#fff"/></svg>
<div class="prev" style="top:859.33px">52,2%</div>
<div class="num" style="top:871.36px">20.</div>
<div class="nm" style="top:867.16px">GILDO INSFRÁN</div>
<div class="pv" style="top:880.26px">FORMOSA</div>
<svg class="av" style="top:862.98px;left:68px" width="30" height="30" viewBox="0 0 30 30"><defs><clipPath id="c19"><circle cx="15" cy="15" r="14.6"/></clipPath></defs><circle cx="15" cy="15" r="14.5" fill="#fff" fill-opacity="0.3"/><g clip-path="url(#c19)"><g filter="url(#bl)"><path d="M-1 31 L0.5 24 C2.5 20 7 18.8 11 18 L19 18 C23 18.8 27.5 20 29.5 24 L31 31Z" fill="#24345a"/><path d="M11.6 18 L15 26.5 L18.4 18Z" fill="#d8e0f0"/><rect x="12.3" y="13" width="5.4" height="6" fill="#dcb29d"/><ellipse cx="15" cy="10.2" rx="6" ry="7.4" fill="#dcb29d"/><path d="M9.2 11 C9.5 17 12 19 15 19 C18 19 20.5 17 20.8 11 C20 14.5 18 15 15 15 C12 15 10 14.5 9.2 11Z" fill="#2a1a12"/></g></g><circle cx="15" cy="15" r="14.5" fill="none" stroke="#6c7478" stroke-opacity="0.55" stroke-width="1"/></svg>
<div style="position:absolute;left:62.6px;width:265.4px;height:1px;background:#e6d8da;top:896.6px"></div>
<div class="bar g" style="top:900.2px;left:330px;width:133.26px"><span>47.9%</span></div>
<div class="bar r" style="top:900.2px;left:463.26px;width:132.42px"><span>47.6%</span></div>
<div class="bar n" style="top:900.2px;left:595.68px;width:12.52px"></div>
<div class="nsl" style="top:900.2px;left:581.94px;width:40px;clip-path:inset(0 11.94px 0 0)">4.5%</div>
<svg class="arr" style="top:900.35px;left:611.5px" width="30" height="30" viewBox="-15 -15 30 30"><circle r="14.7" fill="#e40000"/><polygon points="0,9.2 8.6,0.6 6.2,-2.8 2.1,1.3 2.1,-9.3 -2.1,-9.3 -2.1,1.3 -6.2,-2.8 -8.6,0.6" fill="#fff"/></svg>
<div class="prev" style="top:896.7px">48,8%</div>
<div class="num" style="top:908.6px">21.</div>
<div class="nm" style="top:904.4px">ROLANDO FIGUEROA</div>
<div class="pv" style="top:917.5px">NEUQUÉN</div>
<svg class="av" style="top:900.35px;left:68px" width="30" height="30" viewBox="0 0 30 30"><defs><clipPath id="c20"><circle cx="15" cy="15" r="14.6"/></clipPath></defs><circle cx="15" cy="15" r="14.5" fill="#fff" fill-opacity="0.3"/><g clip-path="url(#c20)"><g filter="url(#bl)"><path d="M-1 31 L0.5 24 C2.5 20 7 18.8 11 18 L19 18 C23 18.8 27.5 20 29.5 24 L31 31Z" fill="#223a7c"/><path d="M11.6 18 L15 26.5 L18.4 18Z" fill="#b8cce8"/><rect x="12.3" y="13" width="5.4" height="6" fill="#d6b29d"/><ellipse cx="15" cy="10.2" rx="5.7" ry="7.1" fill="#d6b29d"/><path d="M9.3 9.8 C8.7 3.2 12 1.9 15 1.9 C18 1.9 21.3 3.2 20.7 9.8 C20.1 6.4 18 5.4 15 5.4 C12 5.4 9.9 6.4 9.3 9.8Z" fill="#8a8886"/></g></g><circle cx="15" cy="15" r="14.5" fill="none" stroke="#6c7478" stroke-opacity="0.55" stroke-width="1"/></svg>
<div style="position:absolute;left:62.6px;width:265.4px;height:1px;background:#e6d8da;top:933.97px"></div>
<div class="bar g" style="top:937.57px;left:330px;width:131.31px"><span>47.2%</span></div>
<div class="bar r" style="top:937.57px;left:461.31px;width:133.54px"><span>48.0%</span></div>
<div class="bar n" style="top:937.57px;left:594.85px;width:13.35px"></div>
<div class="nsl" style="top:937.57px;left:581.52px;width:40px;clip-path:inset(0 11.52px 0 0)">4.8%</div>
<svg class="arr" style="top:937.72px;left:611.5px" width="30" height="30" viewBox="-15 -15 30 30"><circle r="14.7" fill="#e40000"/><polygon points="0,9.2 8.6,0.6 6.2,-2.8 2.1,1.3 2.1,-9.3 -2.1,-9.3 -2.1,1.3 -6.2,-2.8 -8.6,0.6" fill="#fff"/></svg>
<div class="prev" style="top:934.08px">47,4%</div>
<div class="num" style="top:945.84px">22.</div>
<div class="nm" style="top:941.64px">AXEL KICILLOF</div>
<div class="pv" style="top:954.74px">PROV. BUENOS AIRES</div>
<svg class="av" style="top:937.72px;left:68px" width="30" height="30" viewBox="0 0 30 30"><defs><clipPath id="c21"><circle cx="15" cy="15" r="14.6"/></clipPath></defs><circle cx="15" cy="15" r="14.5" fill="#fff" fill-opacity="0.3"/><g clip-path="url(#c21)"><g filter="url(#bl)"><path d="M-1 31 L0.5 24 C2.5 20 7 18.8 11 18 L19 18 C23 18.8 27.5 20 29.5 24 L31 31Z" fill="#2a3040"/><path d="M11.6 18 L15 26.5 L18.4 18Z" fill="#d0a890"/><rect x="12.3" y="13" width="5.4" height="6" fill="#d6b29d"/><ellipse cx="15" cy="10.2" rx="5.7" ry="7.1" fill="#d6b29d"/><path d="M9.3 9.8 C8.7 3.2 12 1.9 15 1.9 C18 1.9 21.3 3.2 20.7 9.8 C20.1 6.4 18 5.4 15 5.4 C12 5.4 9.9 6.4 9.3 9.8Z" fill="#5a4232"/></g></g><circle cx="15" cy="15" r="14.5" fill="none" stroke="#6c7478" stroke-opacity="0.55" stroke-width="1"/></svg>
<div style="position:absolute;left:62.6px;width:265.4px;height:1px;background:#e6d8da;top:971.34px"></div>
<div class="bar g" style="top:974.94px;left:330px;width:130.2px"><span>46.8%</span></div>
<div class="bar r" style="top:974.94px;left:460.2px;width:139.93px"><span>50.3%</span></div>
<div class="bar n" style="top:974.94px;left:600.13px;width:8.07px"></div>
<div class="nsl" style="top:974.94px;left:584.17px;width:40px;clip-path:inset(0 14.17px 0 0)">2.9%</div>
<svg class="arr" style="top:975.09px;left:611.5px" width="30" height="30" viewBox="-15 -15 30 30"><circle r="14.7" fill="#e40000"/><polygon points="0,9.2 8.6,0.6 6.2,-2.8 2.1,1.3 2.1,-9.3 -2.1,-9.3 -2.1,1.3 -6.2,-2.8 -8.6,0.6" fill="#fff"/></svg>
<div class="prev" style="top:971.45px">48,0%</div>
<div class="num" style="top:983.08px">23.</div>
<div class="nm" style="top:978.88px">RICARDO QUINTELA</div>
<div class="pv" style="top:991.98px">LA RIOJA</div>
<svg class="av" style="top:975.09px;left:68px" width="30" height="30" viewBox="0 0 30 30"><defs><clipPath id="c22"><circle cx="15" cy="15" r="14.6"/></clipPath></defs><circle cx="15" cy="15" r="14.5" fill="#fff" fill-opacity="0.3"/><g clip-path="url(#c22)"><g filter="url(#bl)"><path d="M-1 31 L0.5 24 C2.5 20 7 18.8 11 18 L19 18 C23 18.8 27.5 20 29.5 24 L31 31Z" fill="#d8e0f0"/><path d="M11.6 18 L15 26.5 L18.4 18Z" fill="#2a3a7a"/><rect x="12.3" y="13" width="5.4" height="6" fill="#dcac91"/><ellipse cx="15" cy="10.2" rx="5.7" ry="7.1" fill="#dcac91"/><path d="M9.3 9.8 C8.7 3.2 12 1.9 15 1.9 C18 1.9 21.3 3.2 20.7 9.8 C20.1 6.4 18 5.4 15 5.4 C12 5.4 9.9 6.4 9.3 9.8Z" fill="#8a5a3a"/></g></g><circle cx="15" cy="15" r="14.5" fill="none" stroke="#6c7478" stroke-opacity="0.55" stroke-width="1"/></svg>
<div style="position:absolute;left:62.6px;width:265.4px;height:1px;background:#e6d8da;top:1008.71px"></div>
<div class="bar g" style="top:1012.31px;left:330px;width:128.25px"><span>46.1%</span></div>
<div class="bar r" style="top:1012.31px;left:458.25px;width:136.32px"><span>49.0%</span></div>
<div class="bar n" style="top:1012.31px;left:594.57px;width:13.63px"></div>
<div class="nsl" style="top:1012.31px;left:581.38px;width:40px;clip-path:inset(0 11.38px 0 0)">4.9%</div>
<svg class="arr" style="top:1012.46px;left:611.5px" width="30" height="30" viewBox="-15 -15 30 30"><circle r="14.7" fill="#07a00e"/><polygon points="0,-9.2 8.7,-0.5 6.5,2.9 2.05,-1.55 2.05,9.1 -2.05,9.1 -2.05,-1.55 -6.5,2.9 -8.7,-0.5" fill="#fff"/></svg>
<div class="prev" style="top:1008.83px">43,3%</div>
<div class="num" style="top:1020.32px">24.</div>
<div class="nm" style="top:1016.12px">ALBERTO WERETILNECK</div>
<div class="pv" style="top:1029.22px">RÍO NEGRO</div>
<svg class="av" style="top:1012.46px;left:68px" width="30" height="30" viewBox="0 0 30 30"><defs><clipPath id="c23"><circle cx="15" cy="15" r="14.6"/></clipPath></defs><circle cx="15" cy="15" r="14.5" fill="#fff" fill-opacity="0.3"/><g clip-path="url(#c23)"><g filter="url(#bl)"><path d="M-1 31 L0.5 24 C2.5 20 7 18.8 11 18 L19 18 C23 18.8 27.5 20 29.5 24 L31 31Z" fill="#2a2e30"/><path d="M11.6 18 L15 26.5 L18.4 18Z" fill="#d8e4f0"/><rect x="12.3" y="13" width="5.4" height="6" fill="#dcac91"/><ellipse cx="15" cy="10.2" rx="5.7" ry="7.1" fill="#dcac91"/><path d="M9.3 9.8 C8.7 3.2 12 1.9 15 1.9 C18 1.9 21.3 3.2 20.7 9.8 C20.1 6.4 18 5.4 15 5.4 C12 5.4 9.9 6.4 9.3 9.8Z" fill="#3a2018"/></g></g><circle cx="15" cy="15" r="14.5" fill="none" stroke="#6c7478" stroke-opacity="0.55" stroke-width="1"/></svg>
</body></html>
